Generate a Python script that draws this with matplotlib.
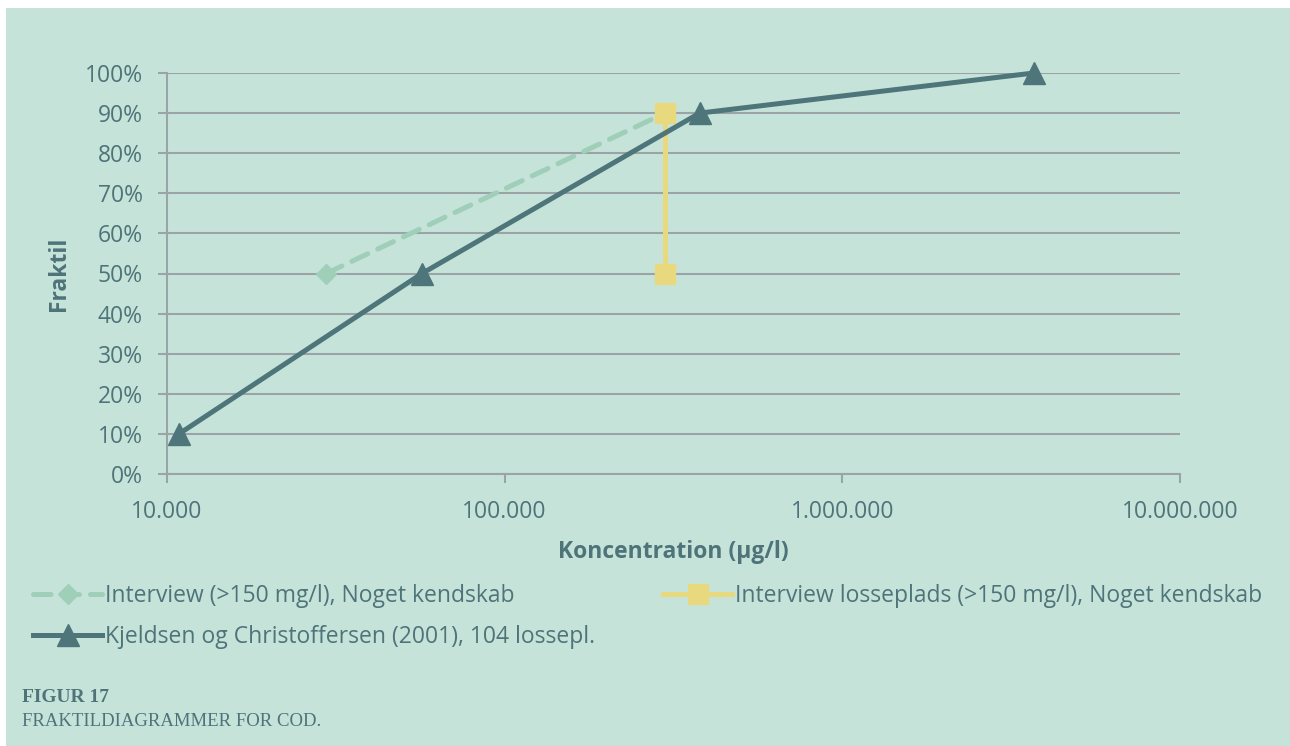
import matplotlib
matplotlib.use("Agg")
import matplotlib.pyplot as plt
from matplotlib.patches import Rectangle
from matplotlib.ticker import FixedLocator, FuncFormatter, NullLocator

plt.rcParams['font.family'] = ['Open Sans', 'DejaVu Sans']

# data
interview_x = [29600, 298000]
interview_y = [0.50, 0.90]
losse_x = [298000, 298000]
losse_y = [0.50, 0.90]
kjeld_x = [10850, 56900, 378000, 3690000]
kjeld_y = [0.10, 0.50, 0.90, 1.00]

labels = ['Interview (>150 mg/l), Noget kendskab',
          'Interview losseplads (>150 mg/l), Noget kendskab',
          'Kjeldsen og Christoffersen (2001), 104 lossepl.']
x_ticks = [1e4, 1e5, 1e6, 1e7]
y_ticks = [i / 10 for i in range(11)]

bg = '#C6E3DA'
txt = '#4E7479'
grid = '#9AA3A5'
c_dark = '#4E757A'
c_dash = '#9FCFB8'
c_yel = '#E8D97E'
fs = 16.5

fig = plt.figure(figsize=(12.9, 7.46), dpi=100, facecolor='white')
fig.patches.append(Rectangle((6 / 1290, 0), 1, 1 - 8 / 746, transform=fig.transFigure,
                             facecolor=bg, edgecolor='none', zorder=-10))

ax = fig.add_axes([167 / 1290, 1 - 474 / 746, (1180 - 167) / 1290, (474 - 73) / 746])
ax.set_facecolor('none')
ax.set_xscale('log')
ax.set_xlim(1e4, 1e7)
ax.set_ylim(0, 1.0)

l1, = ax.plot(interview_x, interview_y, color=c_dash, linewidth=3.6, linestyle=(0, (3.5, 2.2)),
              dash_capstyle='round', marker='D', markersize=10, zorder=3, clip_on=False)
l2, = ax.plot(losse_x, losse_y, color=c_yel, linewidth=3.6, marker='s', markersize=14, zorder=3,
              clip_on=False)
l3, = ax.plot(kjeld_x, kjeld_y, color=c_dark, linewidth=3.6, marker='^', markersize=16, zorder=4,
              clip_on=False)

ax.yaxis.set_major_locator(FixedLocator(y_ticks))
ax.yaxis.set_major_formatter(FuncFormatter(lambda v, p: '%d%%' % round(v * 100)))
ax.xaxis.set_major_locator(FixedLocator(x_ticks))
ax.xaxis.set_minor_locator(NullLocator())
ax.xaxis.set_major_formatter(FuncFormatter(lambda v, p: '{:,.0f}'.format(v).replace(',', '.')))

ax.grid(axis='y', color=grid, linewidth=1.5, zorder=0)
ax.set_axisbelow(True)
for s in ['top', 'right']:
    ax.spines[s].set_visible(False)
for s in ['left', 'bottom']:
    ax.spines[s].set_color(grid)
    ax.spines[s].set_linewidth(1.5)
ax.tick_params(axis='both', colors=grid, width=1.5, length=6.5, labelcolor=txt, labelsize=fs)
ax.tick_params(axis='x', pad=12)
ax.tick_params(axis='y', pad=11)

ax.set_xlabel('Koncentration (µg/l)', color=txt, fontsize=fs, fontweight='bold', labelpad=12)
ax.set_ylabel('Fraktil', color=txt, fontsize=fs, fontweight='bold', labelpad=10)

leg_kw = dict(frameon=False, fontsize=fs, labelcolor=txt, handlelength=3.0,
              handletextpad=0.15, labelspacing=0.75, borderaxespad=0)
fig.legend([l1, l3], [labels[0], labels[2]], loc='upper left',
           bbox_to_anchor=(24 / 1290, 1 - 575 / 746), **leg_kw)
fig.legend([l2], [labels[1]], loc='upper left',
           bbox_to_anchor=(654 / 1290, 1 - 575 / 746), **leg_kw)

fig.text(22 / 1290, 1 - 698 / 746, 'FIGUR 17', family=['Liberation Serif', 'DejaVu Serif'],
         fontweight='bold', fontsize=14, color=txt, va='center')
fig.text(22 / 1290, 1 - 721 / 746, 'FRAKTILDIAGRAMMER FOR COD.', family=['Liberation Serif', 'DejaVu Serif'],
         fontsize=13.5, color=txt, va='center')

fig.savefig('out.png', dpi=100, facecolor='white')
